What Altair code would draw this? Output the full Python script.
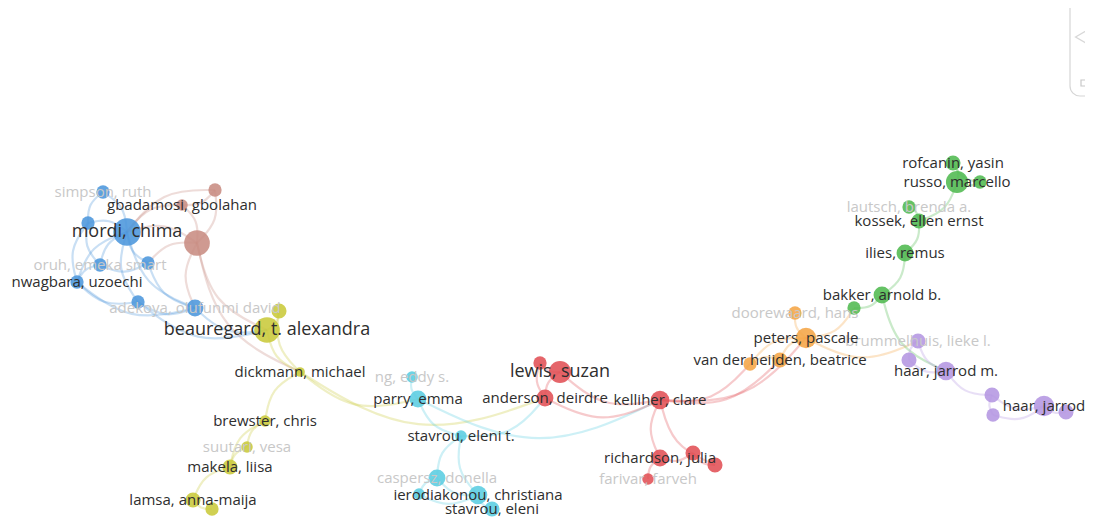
import altair as alt
import pandas as pd
import math

# ---- node data (positions, in page pixels) ----
node_ids = ["b1","b2","b3","b4","b5","b6","b7","b8",
            "br1","br2","br3",
            "y1","y2","y3","y4","y5","y6","y7","y8",
            "c1","c2","c3","c4","c5","c6","c7",
            "r1","r2","r3","r4","r5","r6","r7","r8",
            "o1","o2","o3","o4",
            "g1","g2","g3","g4","g5","g6","g7","g8",
            "p1","p2","p3","p4","p5","p6","p7"]
labels = ["simpson, ruth","","mordi, chima","oruh, emeka smart","","nwagbara, uzoechi","","adekoya, olufunmi david",
          "gbadamosi, gbolahan","","",
          "beauregard, t. alexandra","","dickmann, michael","brewster, chris","suutari, vesa","makela, liisa","lamsa, anna-maija","",
          "ng, eddy s.","parry, emma","stavrou, eleni t.","caspersz, donella","","ierodiakonou, christiana","stavrou, eleni",
          "","lewis, suzan","anderson, deirdre","kelliher, clare","richardson, julia","","","farivar, farveh",
          "doorewaard, hans","peters, pascale","van der heijden, beatrice","",
          "","bakker, arnold b.","ilies, remus","kossek, ellen ernst","lautsch, brenda a.","rofcanin, yasin","russo, marcello","",
          "brummelhuis, lieke l.","","haar, jarrod m.","","","haar, jarrod",""]
node_x = [103,88,127,100,148,77,138,195,
          182,215,197,
          267,279,300,265,247,230,193,212,
          412,418,461,437,419,478,492,
          540,560,545,660,660,693,715,648,
          795,806,780,750,
          854,882,905,919,909,953,957,980,
          918,909,946,992,993,1044,1066]
node_y = [192,223,232,265,263,282,302,308,
          205,190,243,
          330,311,372,421,447,467,500,509,
          377,399,436,478,494,495,509,
          363,372,398,400,458,453,465,479,
          313,338,360,364,
          308,295,253,221,207,163,182,182,
          341,360,371,395,415,406,412]
node_r = [7,7,15,7,7,7,7,9,
          6,7,14,
          14,8,5,6,6,8,8,7,
          6,9,6,9,6,10,8,
          7,12,9,10,9,8,8,6,
          7,11,8,7,
          7,9,9,8,7,8,12,7,
          8,8,10,8,7,11,8]
faded = ["simpson, ruth","oruh, emeka smart","adekoya, olufunmi david","suutari, vesa","ng, eddy s.",
         "caspersz, donella","farivar, farveh","doorewaard, hans","lautsch, brenda a.","brummelhuis, lieke l."]
big_labels = ["mordi, chima","beauregard, t. alexandra","lewis, suzan"]

cluster_colors = {"b":"#4b96dc","br":"#c88c82","y":"#c9c93a","c":"#5acde1",
                  "r":"#e15055","o":"#f5a546","g":"#50b950","p":"#b496e1"}

edges = [("b3","b1"),("b3","b2"),("b3","b4"),("b3","b5"),("b3","b6"),("b3","b7"),("b3","b8"),
         ("b1","b2"),("b2","b4"),("b4","b6"),("b4","b5"),("b6","b7"),("b7","b8"),("b2","b6"),
         ("b5","b8"),("b6","b8"),("b8","y1"),("b7","y1"),
         ("br3","b3"),("br1","b3"),("br2","b3"),("br3","br1"),("br3","br2"),("br1","br2"),
         ("br3","b5"),("br3","b8"),("br3","y1"),("br3","y3"),
         ("y1","y2"),("y1","y3"),("y2","y3"),("y3","y4"),("y4","y5"),("y5","y6"),("y6","y7"),
         ("y7","y8"),("y4","y6"),("y3","c2"),("y3","r3"),
         ("c1","c2"),("c2","c3"),("c3","c4"),("c3","c6"),("c4","c5"),("c4","c6"),("c6","c7"),
         ("c5","c6"),("c3","r3"),("c2","r4"),
         ("r1","r2"),("r2","r3"),("r1","r3"),("r2","r4"),("r3","r4"),("r4","r5"),("r4","r7"),
         ("r5","r6"),("r5","r8"),("r6","r7"),("r4","o2"),("r4","o3"),("r4","o4"),
         ("o1","o2"),("o2","o3"),("o2","o4"),("o3","o4"),("o2","g1"),("o2","p1"),
         ("g1","g2"),("g2","g3"),("g3","g4"),("g4","g5"),("g4","g7"),("g7","g6"),("g7","g8"),
         ("g6","g8"),("g2","p3"),
         ("p1","p2"),("p1","p3"),("p2","p3"),("p3","p4"),("p4","p6"),("p5","p6"),("p6","p7"),("p4","p5")]

def cl(i):
    return i.rstrip("0123456789")

nodes = pd.DataFrame({"id": node_ids, "label": labels, "x": node_x, "y": node_y, "r": node_r})
nodes["color"] = [cluster_colors[cl(i)] for i in node_ids]
nodes["area"] = [math.pi * (r + 0.5) ** 2 for r in node_r]
nodes["tcolor"] = ["#c8c8c8" if l in faded else "#2e2e2e" for l in labels]
nodes["fs"] = [18 if l in big_labels else 15 for l in labels]
nodes["order"] = [1 if l in faded else 2 for l in labels]

pos = {i: (x, y) for i, x, y in zip(node_ids, node_x, node_y)}
rows = []
for k, (a, b) in enumerate(edges):
    (x0, y0), (x1, y1) = pos[a], pos[b]
    mx, my = (x0 + x1) / 2, (y0 + y1) / 2
    dx, dy = x1 - x0, y1 - y0
    bend = 0.24
    cx, cy = mx - dy * bend, my + dx * bend
    col = cluster_colors[cl(a)]
    for j, (px, py) in enumerate([(x0, y0), (cx, cy), (x1, y1)]):
        rows.append({"eid": k, "j": j, "x": px, "y": py, "color": col})
edf = pd.DataFrame(rows)

xs = alt.Scale(domain=[8, 1085], nice=False, zero=False)
ys = alt.Scale(domain=[8, 517], nice=False, zero=False, reverse=True)
X = alt.X("x:Q", scale=xs, axis=None)
Y = alt.Y("y:Q", scale=ys, axis=None)

edge_layer = alt.Chart(edf).mark_line(interpolate="basis", strokeWidth=2.2, opacity=0.3).encode(
    x=X, y=Y, detail="eid:N", order="j:Q", color=alt.Color("color:N", scale=None))

node_layer = alt.Chart(nodes).mark_circle(opacity=0.88).encode(
    x=X, y=Y, size=alt.Size("area:Q", scale=None), color=alt.Color("color:N", scale=None))

text_layer = alt.Chart(nodes[nodes["label"] != ""]).mark_text(
    font="Open Sans", align="center", baseline="middle").encode(
    x=X, y=Y, text="label:N", color=alt.Color("tcolor:N", scale=None),
    size=alt.Size("fs:Q", scale=None), order="order:Q")

panel = alt.Chart(pd.DataFrame({"k": [0]})).mark_rect(
    fill="white", stroke="#d6d6d6", strokeWidth=1.2, cornerRadius=10).encode(
    x=alt.value(1062), x2=alt.value(1095), y=alt.value(-12), y2=alt.value(88))
tri = alt.Chart(pd.DataFrame({"k": [0]})).mark_point(
    shape="triangle-left", filled=False, stroke="#c8c8c8", strokeWidth=1.3, size=380).encode(
    x=alt.value(1076), y=alt.value(29))
small = alt.Chart(pd.DataFrame({"k": [0]})).mark_rect(
    fill="white", stroke="#c8c8c8", strokeWidth=1.2).encode(
    x=alt.value(1073), x2=alt.value(1092), y=alt.value(72), y2=alt.value(78))

chart = alt.layer(edge_layer, node_layer, text_layer, panel, tri, small).properties(
    width=1077, height=509, padding=0, autosize=alt.AutoSizeParams(type="none"),
    background="white"
).configure_view(stroke=None)

chart.save("out.html", embed_options={"renderer": "svg", "actions": False})
